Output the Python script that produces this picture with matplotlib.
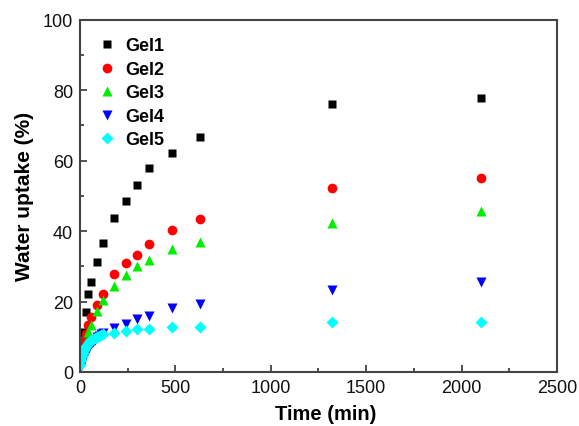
import matplotlib
matplotlib.use("Agg")
import matplotlib.pyplot as plt
from matplotlib.ticker import MultipleLocator

plt.rcParams['font.family'] = ['Liberation Sans', 'DejaVu Sans']

t_a = [5, 15, 30, 45, 60, 90, 120, 180, 240, 300, 360, 480, 630, 1320, 2100]
gel1 = [8.5, 11.3, 17, 22, 25.5, 31.3, 36.6, 43.7, 48.6, 53, 58, 62.1, 66.8, 76.1, 77.8]
gel2 = [6.5, 8.5, 10.8, 13.4, 15.7, 19, 22.2, 27.8, 30.9, 33.3, 36.3, 40.2, 43.3, 52.3, 55.2]
gel3 = [4.5, 6.5, 8.4, 11.3, 13.4, 17.4, 20.3, 24.5, 27.6, 30, 31.8, 34.9, 36.8, 42.2, 45.8]

t_b = [2, 5, 10, 15, 20, 25, 30, 40, 50, 60, 70, 80, 90, 100, 110, 120,
       180, 240, 300, 360, 480, 630, 1320, 2100]
gel4 = [1.0, 1.8, 2.8, 3.6, 4.3, 4.9, 5.5, 6.5, 7.3, 8.0, 8.6, 9.2, 9.8, 10.3, 10.8, 11.2,
        12.4, 13.5, 14.9, 15.8, 18.1, 19.3, 23.2, 25.5]
gel5 = [2.0, 3.3, 4.6, 5.5, 6.2, 6.8, 7.3, 8.0, 8.5, 9.0, 9.3, 9.6, 9.9, 10.2, 10.4, 10.7,
        11.1, 11.7, 12.2, 12.2, 12.7, 12.9, 14.1, 14.3]

labels = ["Gel1", "Gel2", "Gel3", "Gel4", "Gel5"]

fig = plt.figure(figsize=(5.79, 4.27), dpi=100)
ax = fig.add_axes([0.138, 0.1265, 0.824, 0.825])

ax.plot(t_a, gel1, 's', color='black', ms=6, mec='none', label=labels[0])
ax.plot(t_a, gel2, 'o', color='red', ms=7, mec='none', label=labels[1])
ax.plot(t_a, gel3, '^', color='#00ee00', ms=7.5, mec='none', label=labels[2])
ax.plot(t_b, gel4, 'v', color='blue', ms=7.5, mec='none', label=labels[3])
ax.plot(t_b, gel5, 'D', color='cyan', ms=6, mec='none', label=labels[4])

ax.set_xlim(0, 2500)
ax.set_ylim(0, 100)
ax.xaxis.set_major_locator(MultipleLocator(500))
ax.xaxis.set_minor_locator(MultipleLocator(250))
ax.yaxis.set_major_locator(MultipleLocator(20))
ax.yaxis.set_minor_locator(MultipleLocator(10))
ax.tick_params(which='both', direction='in', top=False, right=False,
               labelsize=13, colors='#333333', labelcolor='#111111', width=1.2)
ax.tick_params(which='major', length=5, pad=5)
ax.tick_params(which='minor', length=3)
for s in ax.spines.values():
    s.set_color('#444444')
    s.set_linewidth(1.5)

ax.set_xlabel("Time (min)", fontsize=14.5, fontweight='bold')
ax.set_ylabel("Water uptake (%)", fontsize=15, fontweight='bold')
ax.xaxis.set_label_coords(0.516, -0.09)
ax.yaxis.set_label_coords(-0.097, 0.5)

leg = ax.legend(loc='upper left', frameon=False, prop={'weight': 'bold', 'size': 13},
                handletextpad=0.4, labelspacing=0.36, borderaxespad=0.0,
                bbox_to_anchor=(0.02, 0.97), handlelength=1.2)

fig.savefig("out.png", dpi=100)
